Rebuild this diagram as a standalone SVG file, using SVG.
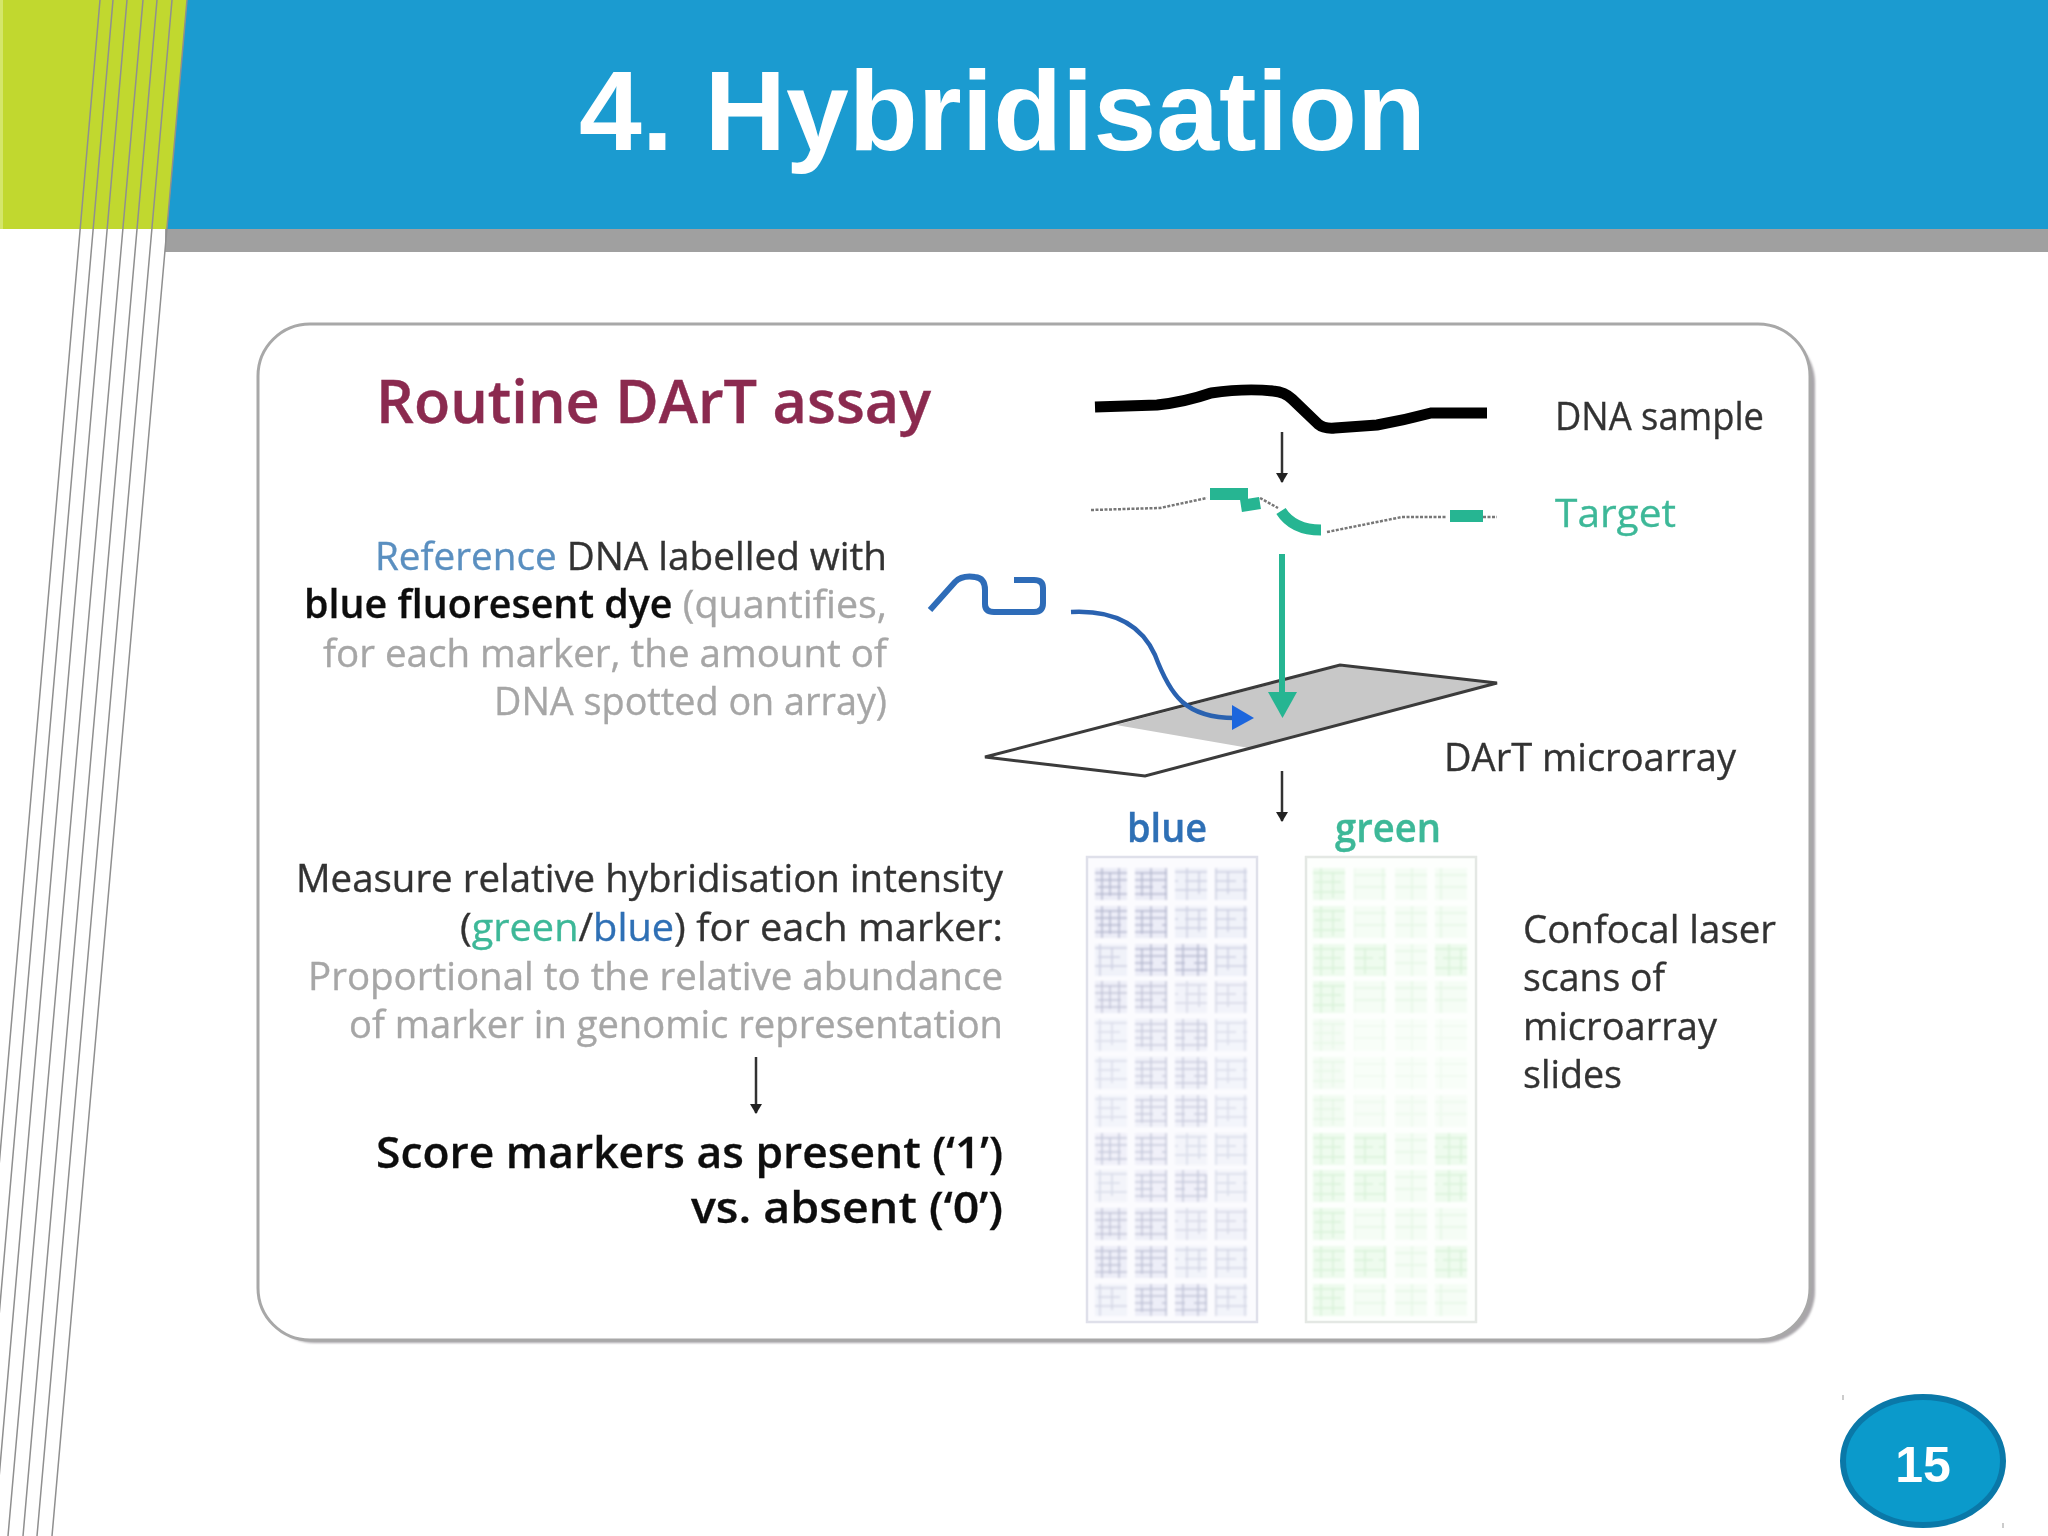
<svg xmlns="http://www.w3.org/2000/svg" width="2048" height="1536" viewBox="0 0 2048 1536">
<defs>
<style>
.t{font-family:"Open Sans","DejaVu Sans",sans-serif;font-size:39px;fill:#333;stroke:#333;stroke-width:.35}
.k{fill:#111;stroke:#111;stroke-width:.3;font-weight:600}
.g{fill:#a6a6a6;stroke:#a6a6a6}
.gr{fill:#3db898;stroke:#3db898}
.bl{fill:#2f6fb5;stroke:#2f6fb5}
.ref{fill:#5a8fc0;stroke:#5a8fc0}
.ln{stroke:#8f8f8f;stroke-width:1.5;fill:none}
.arr{stroke:#333;stroke-width:2.5;fill:none;marker-end:url(#hk)}
.dot{stroke:#777;stroke-width:2.5;stroke-dasharray:3 1.5;fill:none}
.seg{stroke:#25b592;fill:none}
.cb{stroke:#dfe0ea;stroke-width:2.5;fill:#fbfbfe}
.cg{stroke:#e4e8e4;stroke-width:2.5;fill:#fdfffd}
</style>
<marker id="hk" viewBox="0 0 10 14" refX="9" refY="7" markerWidth="10" markerHeight="14" markerUnits="userSpaceOnUse" orient="auto"><path d="M0 1L10 7L0 13Z" fill="#222"/></marker>
<filter id="soft" x="-5%" y="-5%" width="110%" height="110%"><feGaussianBlur stdDeviation="1.1"/></filter>
<filter id="sh" x="-5%" y="-5%" width="110%" height="110%"><feGaussianBlur stdDeviation="1.2"/></filter>
<filter id="fine" filterUnits="userSpaceOnUse" x="0" y="0" width="2048" height="1536"><feGaussianBlur stdDeviation="0.6"/></filter>
<pattern id="pb1" width="32" height="32" patternUnits="userSpaceOnUse"><rect width="32" height="32" fill="#ecedf7"/><path d="M0 5H32M0 12H32M3 19H26M0 26H32M7 0V32M15 4V28M24 0V32" stroke="#b4b8d0" stroke-width="1.5"/></pattern>
<pattern id="pb2" width="29" height="29" patternUnits="userSpaceOnUse"><rect width="29" height="29" fill="#f0f2f9"/><path d="M0 4H29M3 13H25M0 22H29M5 0V29M17 3V26" stroke="#cdd0e2" stroke-width="1.5"/></pattern>
<pattern id="pg1" width="32" height="32" patternUnits="userSpaceOnUse"><rect width="32" height="32" fill="#eefbee"/><path d="M0 5H32M2 14H28M0 24H32M8 0V32M20 4V30" stroke="#d9f2d9" stroke-width="1.5"/></pattern>
<pattern id="pg2" width="29" height="29" patternUnits="userSpaceOnUse"><rect width="29" height="29" fill="#f5fdf5"/><path d="M0 7H29M0 19H29M12 0V29" stroke="#e6f7e6" stroke-width="1.5"/></pattern>
<g id="brA"><rect x="0" width="32" height="32" fill="url(#pb1)"/><rect x="40" width="32" height="32" fill="url(#pb1)"/><rect x="80" width="32" height="32" fill="url(#pb2)"/><rect x="120" width="32" height="32" fill="url(#pb2)"/></g>
<g id="brB"><rect x="0" width="32" height="32" fill="url(#pb2)"/><rect x="40" width="32" height="32" fill="url(#pb1)"/><rect x="80" width="32" height="32" fill="url(#pb1)"/><rect x="120" width="32" height="32" fill="url(#pb2)"/></g>
<g id="grA"><rect x="0" width="32" height="32" fill="url(#pg1)"/><rect x="41" width="32" height="32" fill="url(#pg2)"/><rect x="82" width="32" height="32" fill="url(#pg2)"/><rect x="122" width="32" height="32" fill="url(#pg2)"/></g>
<g id="grB"><rect x="0" width="32" height="32" fill="url(#pg1)"/><rect x="41" width="32" height="32" fill="url(#pg1)"/><rect x="82" width="32" height="32" fill="url(#pg2)"/><rect x="122" width="32" height="32" fill="url(#pg1)"/></g>
</defs>

<rect width="2048" height="1536" fill="#fff"/>

<g id="banner">
<rect x="0" y="0" width="190" height="229" fill="#c1d82f"/>
<rect x="0" y="0" width="3" height="229" fill="#d4e66a"/>
<path d="M165 229H2048V252H165Z" fill="#a0a0a0"/>
<path d="M187 0H2048V229H167Z" fill="#1b9bd0"/>
<text x="579" y="150" font-family="Liberation Sans,Arial,sans-serif" font-size="113" font-weight="700" fill="#fff" textLength="847" lengthAdjust="spacingAndGlyphs">4. Hybridisation</text>
</g>
<g id="stripes">
<path class="ln" d="M187 0L52 1536M172 0L37 1536M157 0L23 1536M143 0L8 1536M127 0L-6 1536M113 0L-20 1536M100 0L-33 1536"/>
</g>

<g id="panel">
<rect x="263" y="331" width="1552" height="1012" rx="52" fill="#a9a6aa" filter="url(#sh)"/>
<rect x="258" y="324" width="1552" height="1016" rx="52" fill="#fff" stroke="#a8a8a8" stroke-width="3"/>
</g>

<g id="content" filter="url(#fine)">
<g id="title-text"><text class="t" x="376" y="423" textLength="555" lengthAdjust="spacingAndGlyphs" style="font-size:59px;font-weight:600;fill:#8b2a50;stroke:#8b2a50;stroke-width:.4">Routine DArT assay</text></g>

<g id="reference-note">
<text class="t" x="375" y="570" textLength="512" lengthAdjust="spacingAndGlyphs"><tspan class="ref">Reference</tspan> DNA labelled with</text>
<text class="t" x="304" y="618" textLength="583" lengthAdjust="spacingAndGlyphs"><tspan class="k">blue fluoresent dye</tspan> <tspan class="g">(quantifies,</tspan></text>
<text class="t g" x="323" y="667" textLength="564" lengthAdjust="spacingAndGlyphs">for each marker, the amount of</text>
<text class="t g" x="494" y="715" textLength="393" lengthAdjust="spacingAndGlyphs">DNA spotted on array)</text>
</g>

<g id="measure-note">
<text class="t" x="296" y="892" textLength="707" lengthAdjust="spacingAndGlyphs">Measure relative hybridisation intensity</text>
<text class="t" x="460" y="941" textLength="543" lengthAdjust="spacingAndGlyphs">(<tspan class="gr">green</tspan>/<tspan class="bl">blue</tspan>) for each marker:</text>
<text class="t g" x="308" y="990" textLength="695" lengthAdjust="spacingAndGlyphs">Proportional to the relative abundance</text>
<text class="t g" x="349" y="1038" textLength="654" lengthAdjust="spacingAndGlyphs">of marker in genomic representation</text>
</g>
<g id="score-note">
<text class="t k" x="376" y="1168" textLength="627" lengthAdjust="spacingAndGlyphs" style="font-size:43px">Score markers as present (‘1’)</text>
<text class="t k" x="691" y="1223" textLength="312" lengthAdjust="spacingAndGlyphs" style="font-size:43px">vs. absent (‘0’)</text>
</g>

<g id="dna-sample">
<path d="M1095 407L1157 405Q1185 402 1211 393Q1245 388 1273 391Q1285 392 1292 399L1318 424Q1324 429 1335 428L1377 425Q1405 420 1431 413L1487 413" fill="none" stroke="#000" stroke-width="11"/>
<text class="t" x="1555" y="430" textLength="209" lengthAdjust="spacingAndGlyphs">DNA sample</text>
</g>
<g id="target">
<path class="dot" d="M1091 510L1160 508L1207 498M1260 498L1278 508M1327 532L1402 517L1446 517M1483 517H1497"/>
<path class="seg" stroke-width="12" d="M1210 494H1248M1241 506L1260 503M1450 516H1483"/>
<path class="seg" stroke-width="11" d="M1281 511Q1293 530 1321 530"/>
<text class="t gr" x="1555" y="527" textLength="121" lengthAdjust="spacingAndGlyphs">Target</text>
</g>

<g id="dart-microarray">
<path d="M1116 725L1340 666L1496 683L1249 748Z" fill="#c8c8c8"/>
<path d="M985 757L1340 665L1497 683L1145 776Z" fill="none" stroke="#3a3a3a" stroke-width="3"/>
<text class="t" x="1444" y="771" textLength="292" lengthAdjust="spacingAndGlyphs">DArT microarray</text>
</g>

<g id="reference-dna">
<path d="M930 610L955 582Q962 575 975 577Q985 578 985 590V604Q985 612 994 612H1034Q1043 612 1043 603V588Q1043 580 1034 580H1014" fill="none" stroke="#2d6cb8" stroke-width="6"/>
</g>

<g id="connectors">
<path class="arr" d="M1282 432V482"/>
<path d="M1282 554V695" stroke="#25b592" stroke-width="6" fill="none"/>
<path d="M1268 692H1297L1282.500 718Z" fill="#25b592"/>
<path d="M1071 612C1110 610 1140 622 1155 655C1170 695 1185 718 1235 718" fill="none" stroke="#2a62b0" stroke-width="4.500"/>
<path d="M1232 705L1254 718L1232 730Z" fill="#1f66dd"/>
<path class="arr" d="M1282 771V821"/>
<path class="arr" d="M756 1057V1113"/>
</g>

<g id="blue-scan">
<text class="t bl" x="1127" y="842" textLength="80" lengthAdjust="spacingAndGlyphs" style="font-weight:600">blue</text>
<rect class="cb" x="1087" y="857" width="170" height="465"/>
<g filter="url(#soft)" transform="translate(1095 0)">
<use href="#brA" y="868"/><use href="#brA" y="906"/><use href="#brB" y="944"/><use href="#brA" y="981" opacity=".8"/><use href="#brB" y="1019" opacity=".7"/><use href="#brB" y="1057" opacity=".7"/><use href="#brB" y="1095" opacity=".7"/><use href="#brA" y="1133" opacity=".75"/><use href="#brB" y="1170" opacity=".75"/><use href="#brA" y="1208" opacity=".8"/><use href="#brA" y="1246" opacity=".85"/><use href="#brB" y="1284" opacity=".85"/>
</g>
</g>
<g id="green-scan">
<text class="t gr" x="1335" y="842" textLength="106" lengthAdjust="spacingAndGlyphs" style="font-weight:600">green</text>
<rect class="cg" x="1306" y="857" width="170" height="465"/>
<g filter="url(#soft)" transform="translate(1313 0)">
<use href="#grA" y="868"/><use href="#grA" y="906"/><use href="#grB" y="944"/><use href="#grA" y="981"/><use href="#grA" y="1019" opacity=".6"/><use href="#grA" y="1057" opacity=".6"/><use href="#grA" y="1095" opacity=".7"/><use href="#grB" y="1133"/><use href="#grB" y="1170"/><use href="#grA" y="1208"/><use href="#grB" y="1246"/><use href="#grA" y="1284"/>
</g>
</g>

<g id="scan-note">
<text class="t" x="1523" y="943" textLength="253" lengthAdjust="spacingAndGlyphs">Confocal laser</text>
<text class="t" x="1523" y="991" textLength="142" lengthAdjust="spacingAndGlyphs">scans of</text>
<text class="t" x="1523" y="1040" textLength="194" lengthAdjust="spacingAndGlyphs">microarray</text>
<text class="t" x="1523" y="1088" textLength="99" lengthAdjust="spacingAndGlyphs">slides</text>
</g>
</g>

<g id="page-number">
<ellipse cx="1923" cy="1461" rx="80" ry="64" fill="#0b9acb" stroke="#0a78a8" stroke-width="6"/>
<text x="1923" y="1482" text-anchor="middle" font-family="Liberation Sans,Arial,sans-serif" font-size="50" font-weight="700" fill="#fff">15</text>
<path d="M1843 1395V1400M2003 1523V1528" stroke="#999" stroke-width="1"/>
</g>
</svg>
